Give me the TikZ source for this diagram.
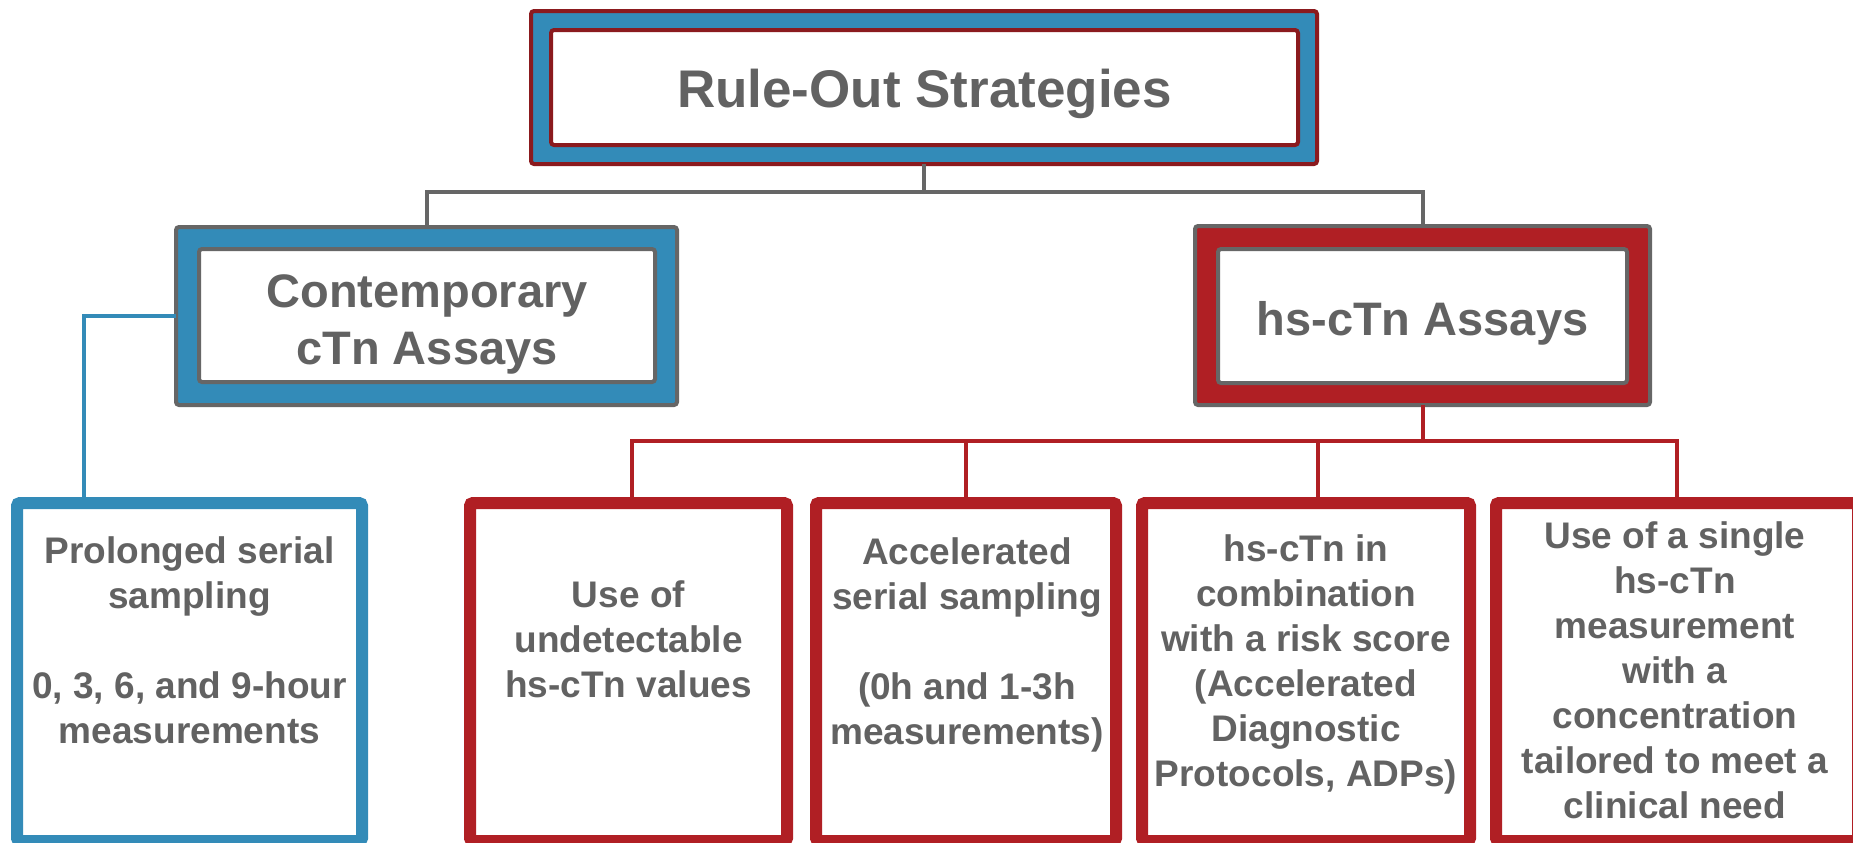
\documentclass[tikz,border=0pt]{standalone}
\usepackage{fontspec}
\setmainfont{Liberation Sans}
\usetikzlibrary{calc}
\definecolor{cblue}{HTML}{338BB8}
\definecolor{cred}{HTML}{B01F24}
\definecolor{cdark}{HTML}{8B1A1E}
\definecolor{cgray}{HTML}{666666}
\definecolor{ctext}{HTML}{626262}
\tikzset{
  box/.style={rectangle, inner sep=0pt, outer sep=0pt, rounded corners=1.5pt},
  topouter/.style={box, draw=cdark, fill=cblue, line width=2pt},
  topinner/.style={box, draw=cdark, fill=white, line width=2pt},
  midouter/.style={box, draw=cgray, line width=2pt},
  midinner/.style={box, draw=cgray, fill=white, line width=2pt},
  leafbox/.style={box, fill=white, line width=6pt},
  txt/.style={text=ctext, font=\bfseries, align=center, inner sep=0pt},
  leaftxt/.style={txt, font=\fontsize{18.5}{22.5}\selectfont\bfseries},
  midtxt/.style={txt, font=\fontsize{23.5}{28.5}\selectfont\bfseries},
  grayline/.style={draw=cgray, line width=2pt},
  redline/.style={draw=cred, line width=2pt},
  blueline/.style={draw=cblue, line width=2pt},
}
\begin{document}
\begin{tikzpicture}[x=0.5pt,y=-0.5pt]
\useasboundingbox (0,0) rectangle (1853,842);
\clip (0,0) rectangle (1853,842);
% top
\node[topouter, minimum width=393pt, minimum height=76.5pt] (top) at (924,87.5) {};
\node[topinner, minimum width=373.5pt, minimum height=57.5pt] (topin) at (924.5,87.5) {};
\node[txt, font=\fontsize{26.5}{32}\selectfont\bfseries] (title) at (924.5,94) {Rule-Out Strategies};
% second level
\node[midouter, fill=cblue, minimum width=250.5pt, minimum height=89pt] (cont) at (426.5,316) {};
\node[midinner, minimum width=228pt, minimum height=66.5pt] (contin) at (427,315.5) {};
\node[midtxt] (contt) at (427,324) {Contemporary\\cTn Assays};
\node[midouter, fill=cred, minimum width=227.5pt, minimum height=89.5pt] (hs) at (1422.5,315.5) {};
\node[midinner, minimum width=204.5pt, minimum height=67pt] (hsin) at (1422.5,316) {};
\node[midtxt] (hst) at (1422.5,323) {hs-cTn Assays};
% leaves
\node[leafbox, draw=cblue, minimum width=172.5pt, minimum height=169pt] (b1) at (189.5,672) {};
\node[leafbox, draw=cred, minimum width=158.5pt, minimum height=169pt] (r1) at (628.5,672) {};
\node[leafbox, draw=cred, minimum width=150pt, minimum height=169pt] (r2) at (966,672) {};
\node[leafbox, draw=cred, minimum width=164pt, minimum height=169pt] (r3) at (1306,672) {};
\node[leafbox, draw=cred, minimum width=181pt, minimum height=169pt] (r4) at (1677,672) {};
\node[leaftxt] (t1) at (189.5,640) {Prolonged serial\\sampling\\[22.5pt]0, 3, 6, and 9-hour\\measurements};
\node[leaftxt] (t2) at (628.5,639) {Use of\\undetectable\\hs-cTn values};
\node[leaftxt] (t3) at (967,645) {Accelerated\\serial sampling\\[22.5pt](0h and 1-3h\\measurements)};
\node[leaftxt] (t4) at (1306,664) {hs-cTn in\\combination\\with a risk score\\(Accelerated\\Diagnostic\\Protocols, ADPs)};
\node[leaftxt] (t5) at (1675,670) {Use of a single\\hs-cTn\\measurement\\with a\\concentration\\tailored to meet a\\clinical need};
% connectors
\coordinate (gy) at (0,192);
\coordinate (ry) at (0,441);
\draw[grayline] (top.south) -- (top.south |- gy);
\draw[grayline] (cont.north) -- (cont.north |- gy) -- (hs.north |- gy) -- (hs.north);
\draw[blueline] (cont.west) -| ([xshift=33.5pt]b1.north west);
\draw[redline] (hs.south) -- (hs.south |- ry);
\draw[redline] ([xshift=1.75pt]r1.north) -- ([xshift=1.75pt]r1.north |- ry) -- (r4.north |- ry) -- (r4.north);
\draw[redline] (r2.north) -- (r2.north |- ry);
\draw[redline] ([xshift=6pt]r3.north) -- ([xshift=6pt]r3.north |- ry);
\end{tikzpicture}
\end{document}
